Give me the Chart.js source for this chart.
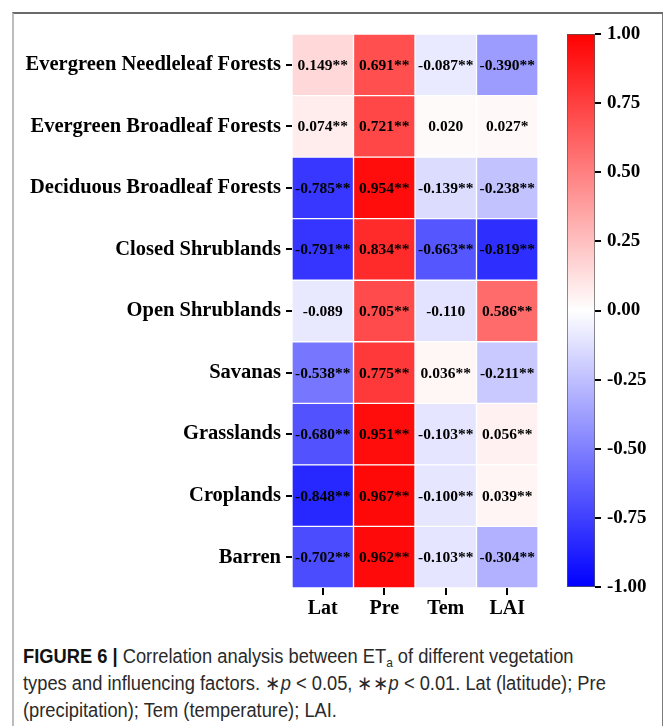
<!DOCTYPE html>
<html>
<head>
<meta charset="utf-8">
<script src="https://cdn.jsdelivr.net/npm/chart.js@4.4.1/dist/chart.umd.min.js"></script>
<style>
  html, body { margin: 0; padding: 0; background: #fff; }
  #wrap { position: relative; width: 663px; height: 726px; overflow: hidden; }
  #frame {
    position: absolute; left: 12px; top: 12px; width: 648px; height: 740px;
    border-top: 2px solid #6a6a6a; border-left: 2px solid #bdbdbd; border-right: 2px solid #7a7a7a;
  }
  #heat { position: absolute; left: 0; top: 0; }
  #bar { position: absolute; left: 545px; top: 0; }
  #caption {
    position: absolute; left: 23px; top: 643px; width: 700px;
    transform: scaleX(0.915); transform-origin: 0 0;
    font-family: "Liberation Sans", Arial, sans-serif;
    font-size: 20px; line-height: 27px; color: #2a2a2a; white-space: nowrap;
  }
  #caption b { font-weight: bold; color: #111; }
  #caption sub { font-size: 13px; vertical-align: -4px; line-height: 0; }
</style>
</head>
<body>
<div id="wrap">
  <div id="frame"></div>
  <canvas id="heat" width="545" height="625"></canvas>
  <canvas id="bar" width="118" height="625"></canvas>
  <div id="caption"><b>FIGURE 6 |</b> Correlation analysis between ET<sub>a</sub> of different vegetation<br>types and influencing factors. ∗<i>p</i> &lt; 0.05, ∗∗<i>p</i> &lt; 0.01. Lat (latitude); Pre<br>(precipitation); Tem (temperature); LAI.</div>
</div>
<script>
// Vegetation types (rows) and influencing factors (columns)
const vegTypes = [
  "Evergreen Needleleaf Forests",
  "Evergreen Broadleaf Forests",
  "Deciduous Broadleaf Forests",
  "Closed Shrublands",
  "Open Shrublands",
  "Savanas",
  "Grasslands",
  "Croplands",
  "Barren"
];
const factors = ["Lat", "Pre", "Tem", "LAI"];

// Correlation coefficients per factor
const latValues = [0.149, 0.074, -0.785, -0.791, -0.089, -0.538, -0.680, -0.848, -0.702];
const preValues = [0.691, 0.721, 0.954, 0.834, 0.705, 0.775, 0.951, 0.967, 0.962];
const temValues = [-0.087, 0.020, -0.139, -0.663, -0.110, 0.036, -0.103, -0.100, -0.103];
const laiValues = [-0.390, 0.027, -0.238, -0.819, 0.586, -0.211, 0.056, 0.039, -0.304];

// Significance marks per factor
const latSig = ["**", "**", "**", "**", "", "**", "**", "**", "**"];
const preSig = ["**", "**", "**", "**", "**", "**", "**", "**", "**"];
const temSig = ["**", "", "**", "**", "", "**", "**", "**", "**"];
const laiSig = ["**", "*", "**", "**", "**", "**", "**", "**", "**"];

// Colour bar ticks
const colorTicks = [-1, -0.75, -0.5, -0.25, 0, 0.25, 0.5, 0.75, 1];

const valueCols = [latValues, preValues, temValues, laiValues];
const sigCols = [latSig, preSig, temSig, laiSig];

// Blue-white-red diverging colour map on [-1, 1]
function bwr(v) {
  const t = Math.max(-1, Math.min(1, v));
  if (t >= 0) {
    const g = Math.round(255 * (1 - t));
    return `rgb(255,${g},${g})`;
  }
  const g = Math.round(255 * (1 + t));
  return `rgb(${g},${g},255)`;
}

const serif = "'Liberation Serif', 'Times New Roman', serif";

const heatDatasets = factors.map((name, c) => ({
  label: name,
  data: vegTypes.map(() => [c, c + 1]),
  values: valueCols[c],
  sig: sigCols[c],
  backgroundColor: valueCols[c].map(bwr),
  borderColor: "rgba(255,255,255,0.85)",
  borderWidth: 1,
  borderSkipped: false,
  grouped: false,
  barPercentage: 1,
  categoryPercentage: 1
}));

// Writes each coefficient with its significance mark in the middle of its cell
const cellText = {
  id: "cellText",
  afterDatasetsDraw(chart) {
    const ctx = chart.ctx;
    ctx.save();
    ctx.font = `bold 15.5px ${serif}`;
    ctx.fillStyle = "#000";
    ctx.textAlign = "center";
    ctx.textBaseline = "middle";
    chart.data.datasets.forEach((ds, di) => {
      const meta = chart.getDatasetMeta(di);
      meta.data.forEach((el, i) => {
        const cx = (el.x + el.base) / 2;
        ctx.fillText(ds.values[i].toFixed(3) + ds.sig[i], cx, el.y + 1);
      });
    });
    ctx.restore();
  }
};

new Chart(document.getElementById("heat"), {
  type: "bar",
  data: { labels: vegTypes, datasets: heatDatasets },
  options: {
    indexAxis: "y",
    responsive: false,
    animation: false,
    layout: { padding: { left: 0, right: 7, top: 34, bottom: 0 } },
    plugins: { legend: { display: false }, tooltip: { enabled: false } },
    scales: {
      x: {
        type: "linear",
        min: 0,
        max: 4,
        afterBuildTicks(scale) {
          scale.ticks = factors.map((_, i) => ({ value: i + 0.5 }));
        },
        afterFit(scale) { scale.height = 37; },
        ticks: {
          callback: (v, i) => factors[i],
          color: "#000",
          font: { family: serif, size: 20, weight: "bold" },
          padding: 2,
          maxRotation: 0,
          autoSkip: false
        },
        grid: { drawOnChartArea: false, drawTicks: true, tickLength: 7, color: "#000", lineWidth: 2 },
        border: { display: false }
      },
      y: {
        type: "category",
        afterFit(scale) { scale.width = 292; },
        ticks: {
          color: "#000",
          font: { family: serif, size: 20.5, weight: "bold" },
          padding: 5,
          autoSkip: false
        },
        grid: { drawOnChartArea: false, drawTicks: true, tickLength: 6, color: "#000", lineWidth: 2, offset: false },
        border: { display: false }
      }
    }
  },
  plugins: [cellText]
});

// Colour bar: one floating bar spanning -1..1 filled with the colour map
new Chart(document.getElementById("bar"), {
  type: "bar",
  data: {
    labels: [""],
    datasets: [{
      data: [[-1, 1]],
      backgroundColor(context) {
        const area = context.chart.chartArea;
        if (!area) return "#fff";
        const ys = context.chart.scales.y;
        const g = context.chart.ctx.createLinearGradient(0, ys.getPixelForValue(-1), 0, ys.getPixelForValue(1));
        g.addColorStop(0, bwr(-1));
        g.addColorStop(0.5, bwr(0));
        g.addColorStop(1, bwr(1));
        return g;
      },
      borderColor: "#555",
      borderWidth: 1,
      borderSkipped: false,
      barPercentage: 1,
      categoryPercentage: 1
    }]
  },
  options: {
    responsive: false,
    animation: false,
    layout: { padding: { left: 22, right: 0, top: 34, bottom: 0 } },
    plugins: { legend: { display: false }, tooltip: { enabled: false } },
    scales: {
      x: { display: false, afterFit(scale) { scale.height = 38; } },
      y: {
        position: "right",
        min: -1,
        max: 1,
        afterBuildTicks(scale) { scale.ticks = colorTicks.map(v => ({ value: v })); },
        afterFit(scale) { scale.width = 68; },
        ticks: {
          callback: v => v.toFixed(2),
          color: "#000",
          font: { family: serif, size: 19, weight: "bold" },
          padding: 6
        },
        grid: { drawOnChartArea: false, drawTicks: true, tickLength: 6, color: "#000", lineWidth: 2 },
        border: { display: false }
      }
    }
  }
});
</script>
</body>
</html>
